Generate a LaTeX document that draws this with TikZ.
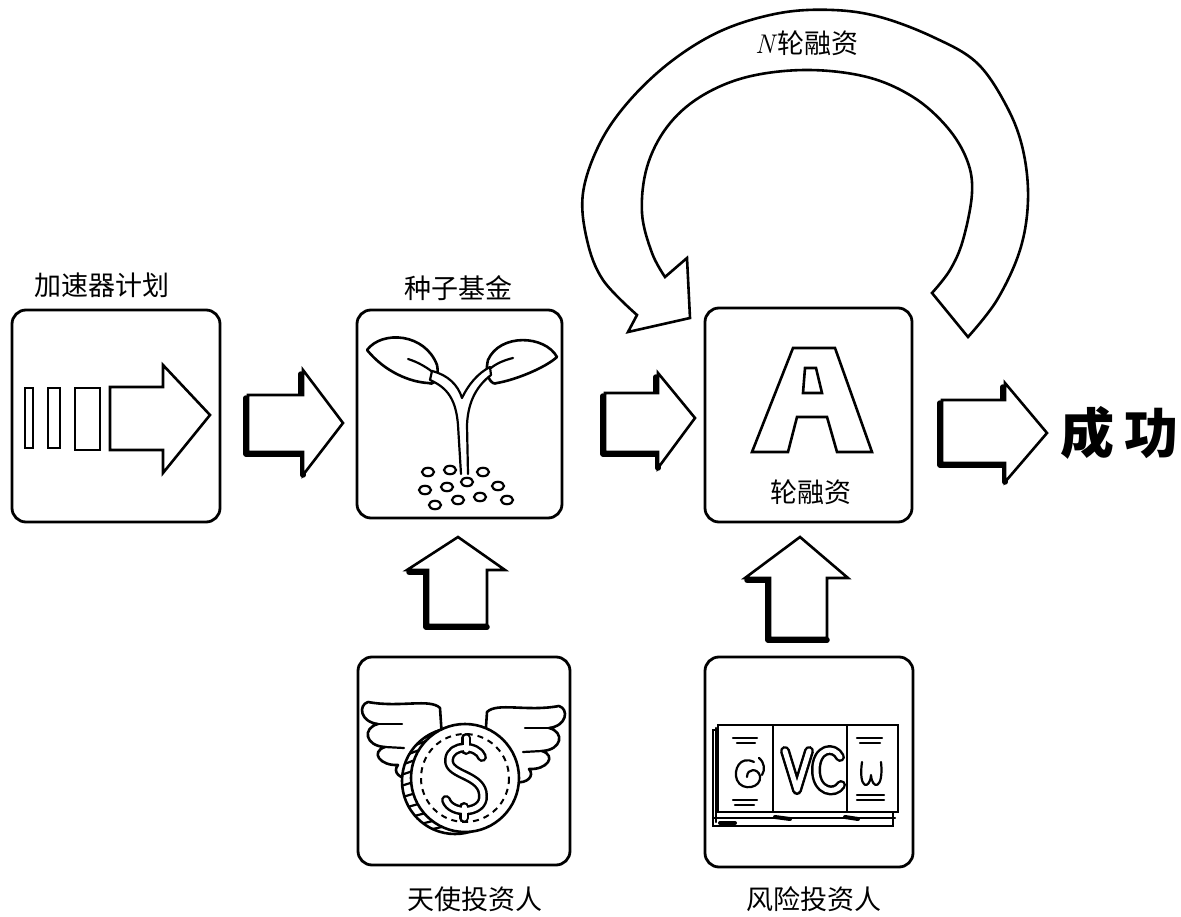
\documentclass[tikz,border=0pt]{standalone}
\usepackage{fontspec}
\newfontfamily\cjk{Noto Sans CJK SC}
\usetikzlibrary{calc}
\tikzset{
 box/.style={draw, line width=2.8pt, rounded corners=14pt, inner sep=0pt},
 lbl/.style={font=\cjk\fontsize{27}{30}\selectfont, inner sep=0pt},
 outl/.style={draw, line width=2.6pt, line join=miter, fill=white},
 shad/.style={line width=5.5pt, line cap=round, line join=round},
 thin/.style={line width=2.2pt, line cap=round, line join=round},
 hollowout/.style={line width=10pt, line cap=round, line join=round},
 hollowin/.style={white, line width=5pt, line cap=round, line join=round},
 seed/.style={draw, line width=2.2pt, x radius=6pt, y radius=4.2pt},
}
% right block arrow: xl yt yb xh yht yhb xtip ytip
\newcommand\blockarrowR[8]{%
 \draw[shad] (#1-2,#2+3) -- (#1-2,#3+2) -- (#4,#3+2) -- (#4,#6);
 \draw[shad] (#4-2,#5+4) -- (#4-2,#2);
 \draw[outl] (#1,#2) -- (#4,#2) -- (#4,#5) -- (#7,#8) -- (#4,#6) -- (#4,#3) -- (#1,#3) -- cycle;
}
% up block arrow: xtip ytip yhb xhl xhr xsl xsr ybot
\newcommand\blockarrowU[8]{%
 \draw[shad] (#4+2,#3+2) -- (#6-2,#3+2) -- (#6-2,#8+2) -- (#7,#8+2);
 \draw[outl] (#1,#2) -- (#5,#3) -- (#7,#3) -- (#7,#8) -- (#6,#8) -- (#6,#3) -- (#4,#3) -- cycle;
}
\begin{document}
\begin{tikzpicture}[x=1pt,y=-1pt]
\useasboundingbox (0,0) rectangle (1181,917);

% ---------- boxes ----------
\node[box, minimum width=208pt, minimum height=212pt] (acc) at (116,416) {};
\node[box, minimum width=205pt, minimum height=208pt] (seedbox) at (459.5,414) {};
\node[box, minimum width=207pt, minimum height=214pt] (abox) at (808.5,415) {};
\node[box, minimum width=212pt, minimum height=208pt] (angel) at (464,761) {};
\node[box, minimum width=208pt, minimum height=210pt] (vc) at (809,762) {};

% ---------- labels ----------
\node[lbl] (accl) at (102,285) {加速器计划};
\node[lbl] (seedl) at (458,288) {种子基金};
\node[lbl] (al) at (811,492) {轮融资};
\node[lbl] (angell) at (475,899) {天使投资人};
\node[lbl] (vcl) at (814,899) {风险投资人};
\node[font=\cjk\bfseries\fontsize{54}{54}\selectfont, inner sep=0pt] (success) at (1119,433) {成\hspace{10pt}功};

% ---------- accelerator icon ----------
\draw[outl] (25,388) rectangle (33,448);
\draw[outl] (48,388) rectangle (60,448);
\draw[outl] (75,388) rectangle (100,450);
\draw[outl] (110,387) -- (163,387) -- (163,365) -- (210,415) -- (163,473) -- (163,450) -- (110,450) -- cycle;

% ---------- flow arrows ----------
\blockarrowR{248}{395}{452}{303}{370}{475}{343}{423}
\blockarrowR{605}{393}{452}{658}{373}{468}{695}{418}
\blockarrowR{942}{400}{463}{1005}{383}{482}{1047}{433}
\blockarrowU{458}{537}{570}{407}{505}{428}{487}{625}
\blockarrowU{800}{537}{578}{745}{848}{770}{827}{638}

% ---------- N-round curved arrow ----------
\draw[outl] plot[smooth, tension=0.6] coordinates {(968,337) (997,300) (1020,250) (1028,200) (1023,150) (1007,107) (977,63) (933,37) (880,17) (833,10) (780,13) (723,30) (673,60) (630,100) (600,143) (583,193) (587,240) (603,280) (637,315)}
 -- (628,332) -- (690,318) -- (687,258) -- (665,277)
 -- plot[smooth, tension=0.6] coordinates {(665,277) (652,253) (642,213) (647,167) (667,127) (700,97) (747,77) (807,70) (867,77) (913,97) (947,127) (967,160) (972,193) (963,240) (950,270) (932,293)} -- cycle;
\node[lbl] (nl) at (807,43) {{\rmfamily\itshape N}\hspace{3pt}轮融资};

% ---------- letter A ----------
\draw[outl] (752,452) -- (793,348) -- (835,348) -- (872,452) -- (837,452) -- (827,417) -- (797,417) -- (788,452) -- cycle;
\draw[outl] (805,368) -- (816,368) -- (822,393) -- (803,393) -- cycle;

% ---------- seedling ----------
\draw[outl, line join=round] (367,350) .. controls (382,330) and (425,333) .. (437,365) .. controls (440,380) and (432,386) .. (428,383) .. controls (410,382) and (385,372) .. (367,350) -- cycle;
\draw[outl, line join=round] (557,357) .. controls (545,335) and (500,333) .. (488,360) .. controls (484,376) and (492,386) .. (497,383) .. controls (515,380) and (545,368) .. (557,357) -- cycle;
\draw[thin] (408,359) .. controls (418,362) and (428,368) .. (435,374);
\draw[thin] (513,358) .. controls (505,360) and (497,363) .. (491,368);
\draw[thin, fill=white] (461,474) -- (458,425) .. controls (456,400) and (448,388) .. (430,380)
  -- (432,371) .. controls (448,375) and (458,385) .. (462,398) .. controls (468,385) and (478,373) .. (490,367)
  -- (491,375) .. controls (478,385) and (468,400) .. (467,425) -- (468,474);
\foreach \p in {(428,472),(450,470),(483,472),(425,490),(447,487),(467,482),(498,486),(435,505),(458,500),(480,497),(507,500)}
  \draw[seed] \p ellipse[];

% ---------- winged coin ----------
\draw[outl, line join=round] (442,738) -- (440,708) .. controls (430,698) and (400,708) .. (368,702) .. controls (358,705) and (360,722) .. (378,724) .. controls (362,728) and (365,746) .. (385,747) .. controls (370,752) and (380,766) .. (398,765) .. controls (392,772) and (400,780) .. (412,778) -- cycle;
\draw[thin] (378,724) -- (402,724);
\draw[thin] (385,747) -- (404,748);
\begin{scope}[xshift=927pt, xscale=-1, yshift=-4pt]
\draw[outl, line join=round] (442,738) -- (440,708) .. controls (430,698) and (400,708) .. (368,702) .. controls (358,705) and (360,722) .. (378,724) .. controls (362,728) and (365,746) .. (385,747) .. controls (370,752) and (380,766) .. (398,765) .. controls (392,772) and (400,780) .. (412,778) -- cycle;
\draw[thin] (378,724) -- (402,724);
\draw[thin] (385,747) -- (404,748);
\end{scope}
\draw[outl] (455,781) circle[radius=53];
\foreach \a in {115,127,...,250}
  \draw[thin] ($(455,781)+(\a:53)$) -- ($(465,778)+(\a:54)$);
\draw[outl] (465,778) circle[radius=54];
\draw[line width=2pt, dash pattern=on 6pt off 5pt] (465,778) circle[radius=44];
\foreach \s in {hollowout,hollowin}{
  \draw[\s] (482,757) .. controls (478,745) and (450,743) .. (449,760) .. controls (448,776) and (483,774) .. (483,796) .. controls (484,814) and (451,815) .. (446,800);
  \draw[\s] (466,738) -- (466,750);
  \draw[\s] (464,807) -- (464,818);
}

% ---------- VC banknotes ----------
\draw[outl] (713,730) rectangle (893,826);
\draw[thin] (713,818) -- (895,818);
\draw[thin] (716,728) -- (716,822);
\draw[shad, line width=4pt] (720,823) -- (735,823);
\draw[shad, line width=4pt] (775,817) -- (790,819);
\draw[shad, line width=4pt] (845,817) -- (858,819);
\draw[outl] (718,725) rectangle (898,812);
\draw[line width=2.4pt] (773,725) -- (773,812);
\draw[line width=2.4pt] (847,725) -- (847,812);
\draw[thin] (733,738) -- (757,738);
\draw[thin] (737,743) -- (755,743);
\draw[thin] (733,800) -- (757,800);
\draw[thin] (735,805) -- (754,805);
\draw[thin] (754,762) .. controls (740,755) and (733,770) .. (737,780) .. controls (742,792) and (762,788) .. (760,776) .. controls (758,768) and (747,768) .. (747,777);
\draw[thin] (759,758) .. controls (765,763) and (765,770) .. (762,775);
\draw[thin] (857,738) -- (882,738);
\draw[thin] (860,743) -- (880,743);
\draw[thin] (857,795) -- (884,795);
\draw[thin] (857,800) -- (884,800);
\draw[thin] (862,762) .. controls (858,790) and (870,790) .. (871,775) .. controls (872,790) and (884,790) .. (881,762);
\foreach \s in {hollowout,hollowin}{
  \draw[\s] (785,751) -- (797,790) -- (809,751);
  \draw[\s] (840,757) .. controls (834,745) and (816,748) .. (816,770) .. controls (816,792) and (835,795) .. (841,785);
}
\end{tikzpicture}
\end{document}
